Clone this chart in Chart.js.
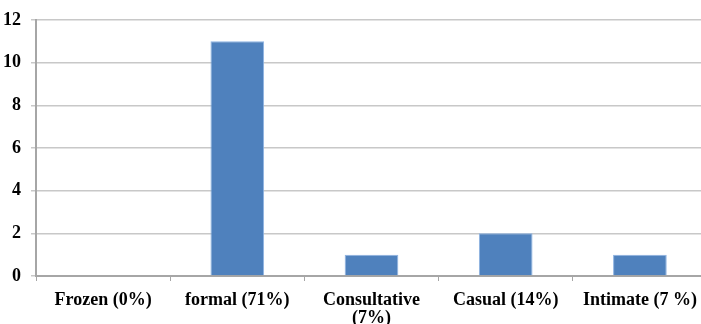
<!DOCTYPE html>
<html>
<head>
<meta charset="utf-8">
<script src="https://cdn.jsdelivr.net/npm/chart.js@4"></script>
<style>
  html, body { margin: 0; padding: 0; background: #fff; overflow: hidden; }
  #wrap { position: absolute; left: -11px; top: 0; width: 722px; height: 324px; }
</style>
</head>
<body>
<div id="wrap"><canvas id="styleChart"></canvas></div>
<script>
// categories and counts
const categories = ["Frozen (0%)", "formal (71%)", ["Consultative", "(7%)"], "Casual (14%)", "Intimate (7 %)"];
const counts = [0, 11, 1, 2, 1];
const yTicks = [0, 2, 4, 6, 8, 10, 12];

const serif = { family: "'Liberation Serif', 'Times New Roman', serif", size: 18, weight: "bold", lineHeight: 1.0 };

const ctx = document.getElementById("styleChart");

new Chart(ctx, {
  type: "bar",
  data: {
    labels: categories,
    datasets: [
      {
        label: "Count",
        data: counts,
        backgroundColor: "#4f81bd",
        borderColor: "#8db3e2",
        borderWidth: 1,
        categoryPercentage: 1,
        barPercentage: 0.4,
      },
    ],
  },
  options: {
    responsive: true,
    maintainAspectRatio: false,
    animation: false,
    layout: { padding: { top: 20, right: 4, left: 0, bottom: 0 } },
    plugins: { legend: { display: false }, tooltip: { enabled: false } },
    scales: {
      x: {
        afterFit: (scale) => {
          scale.height = 48;
        },
        grid: { offset: true, drawOnChartArea: false, drawTicks: true, tickLength: 5, color: "#a6a6a6" },
        border: { color: "#a6a6a6", width: 2 },
        ticks: { color: "#000", font: serif, padding: 10, maxRotation: 0, autoSkip: false },
      },
      y: {
        min: 0,
        max: 12,
        afterBuildTicks: (scale) => {
          scale.ticks = yTicks.map((v) => ({ value: v }));
        },
        afterFit: (scale) => {
          scale.width = 47;
        },
        grid: { color: "#c8c8c8", tickLength: 5, lineWidth: 1.5 },
        border: { color: "#a6a6a6", width: 2 },
        ticks: { color: "#000", font: serif, padding: 10 },
      },
    },
  },
});
</script>
</body>
</html>
